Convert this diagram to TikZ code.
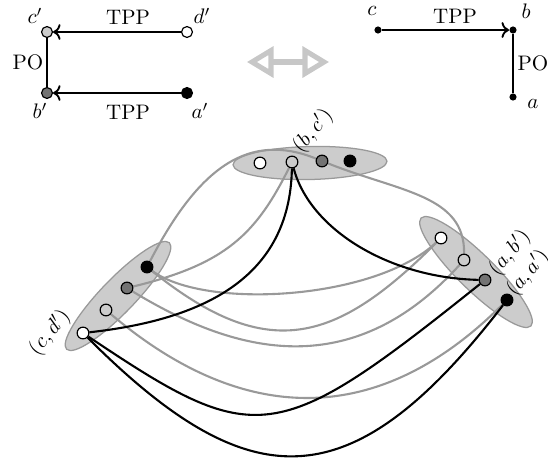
\documentclass[tikz,border=0pt]{standalone}
\usetikzlibrary{arrows.meta}
\pgfdeclarelayer{clusters}
\pgfdeclarelayer{links}
\pgfsetlayers{clusters,links,main}
\begin{document}
\begin{tikzpicture}[x=0.4762pt,y=-0.4762pt,
  vtx/.style={circle, draw=black, line width=0.55pt, inner sep=0pt, minimum size=5.6pt},
  netv/.style={vtx, minimum size=5.2pt},
  dotv/.style={circle, fill=black, inner sep=0pt, minimum size=3.4pt},
  lightv/.style={fill=black!20},
  darkv/.style={fill=black!55},
  blackv/.style={fill=black},
  whitev/.style={fill=white},
  rel/.style={line width=0.9pt, black},
  cluster/.style={fill=black!20, draw=black!40, line width=0.6pt},
  gedge/.style={black!40, line width=1pt},
  bedge/.style={black, line width=1pt},
  pairlabel/.style={rotate=50, inner sep=0pt},
  swap/.style={black!22, line width=2.4pt},
]
\useasboundingbox (0,0) rectangle (548,466);

% ---------- first network ----------
\node[netv, lightv] (cp) at (47,32) {};
\node[netv, whitev] (dp) at (187,32) {};
\node[netv, darkv]  (bp) at (47,93) {};
\node[netv, blackv] (ap) at (187,93) {};
\draw[rel, ->] (dp) -- (cp);
\draw[rel, ->] (ap) -- (bp);
\draw[rel] (cp) -- (bp);
\node (tppA) at (128,17) {TPP};
\node (tppB) at (128,112) {TPP};
\node (poA) at (28,62) {PO};
\node (lcp) at (35,16) {$c'$};
\node (ldp) at (202,16) {$d'$};
\node (lbp) at (40,111) {$b'$};
\node (lap) at (200,111) {$a'$};

% ---------- second network ----------
\node[dotv] (c) at (378,30) {};
\node[dotv] (b) at (513,30) {};
\node[dotv] (a) at (513,97) {};
\draw[rel, ->] (c) -- (b);
\draw[rel] (b) -- (a);
\node (tppC) at (455,16) {TPP};
\node (poB) at (533,63) {PO};
\node (lc) at (372,11) {$c$};
\node (lb) at (526,11) {$b$};
\node (la) at (533,104) {$a$};

% ---------- double arrow between the networks ----------
\draw[swap] (270,62) -- (306,62);
\draw[swap] (271,50.5) -- (252,62) -- (271,73.5) -- cycle;
\draw[swap] (305,50.5) -- (324,62) -- (305,73.5) -- cycle;

% ---------- compatibility graph ----------
\begin{pgfonlayer}{clusters}
\begin{scope}[shift={(310,163)}, rotate=1.3]
  \draw[cluster] (0,0) ellipse [x radius=77, y radius=16.5];
\end{scope}
\begin{scope}[shift={(118,296)}, rotate=46]
  \draw[cluster] (0,0) ellipse [x radius=74, y radius=17];
\end{scope}
\begin{scope}[shift={(476,272)}, rotate=-44.5]
  \draw[cluster] (0,0) ellipse [x radius=77, y radius=18];
\end{scope}
\end{pgfonlayer}

\node[vtx, whitev] (bd) at (260,163) {};
\node[vtx, lightv] (bc) at (292,162) {};
\node[vtx, darkv]  (bb) at (322,161) {};
\node[vtx, blackv] (ba) at (350,161) {};
\node[vtx, whitev] (cd) at (83,333) {};
\node[vtx, lightv] (cc) at (106,310) {};
\node[vtx, darkv]  (cb) at (127,288) {};
\node[vtx, blackv] (ca) at (147,267) {};
\node[vtx, whitev] (ad) at (441,238) {};
\node[vtx, lightv] (ac) at (464,260) {};
\node[vtx, darkv]  (ab) at (485,280) {};
\node[vtx, blackv] (aa) at (507,300) {};

\begin{pgfonlayer}{links}
% grey edges
\draw[gedge] (ca) .. controls (200,165) and (250,132) .. (bb);
\draw[gedge] (bb) .. controls (400,192) and (465,195) .. (ac);
\draw[gedge] (cb) .. controls (226,264) and (256,234) .. (bc);
\draw[gedge] (ca) .. controls (205,310) and (375,300) .. (ad);
\draw[gedge] (ca) .. controls (268,364) and (336,343) .. (ad);
\draw[gedge] (cb) .. controls (229,350) and (348,388) .. (ac);
\draw[gedge] (cc) .. controls (237,421) and (373,434) .. (aa);
% black edges
\draw[bedge] (bc) .. controls (290,280) and (200,320) .. (cd);
\draw[bedge] (bc) .. controls (310,230) and (390,278) .. (ab);
\draw[bedge] (cd) .. controls (256,449) and (275,448) .. (ab);
\draw[bedge] (cd) .. controls (251,501) and (352,501) .. (aa);
\end{pgfonlayer}

% pair labels
\node[pairlabel] (lbc) at (313,131) {$(b,c')$};
\node[pairlabel] (lcd) at (50,333) {$(c,d')$};
\node[pairlabel] (lab) at (510,253) {$(a,b')$};
\node[pairlabel] (laa) at (528,273) {$(a,a')$};
\end{tikzpicture}
\end{document}
